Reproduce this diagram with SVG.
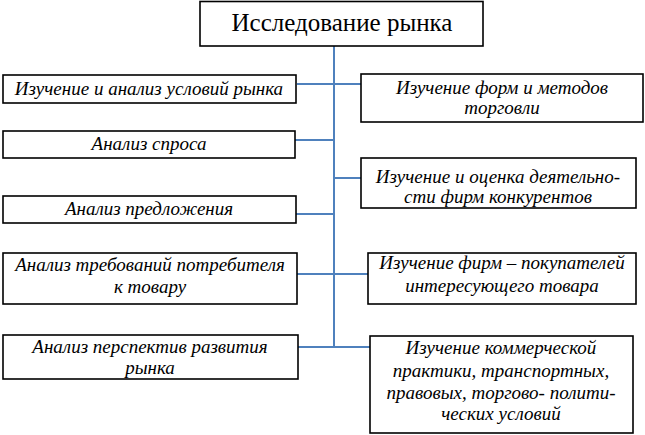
<svg xmlns="http://www.w3.org/2000/svg" width="645" height="435" viewBox="0 0 645 435">
<rect width="645" height="435" fill="#fff"/>
<g id="connectors">
<line stroke="#4f81bd" stroke-width="2" x1="334" y1="46" x2="334" y2="347"/>
<line stroke="#4f81bd" stroke-width="2" x1="297" y1="84" x2="361" y2="84"/>
<line stroke="#4f81bd" stroke-width="2" x1="295" y1="140" x2="334" y2="140"/>
<line stroke="#4f81bd" stroke-width="2" x1="334" y1="178" x2="361" y2="178"/>
<line stroke="#4f81bd" stroke-width="2" x1="296" y1="214" x2="334" y2="214"/>
<line stroke="#4f81bd" stroke-width="2" x1="297" y1="274" x2="368" y2="274"/>
<line stroke="#4f81bd" stroke-width="2" x1="298" y1="347" x2="370" y2="347"/>
</g>
<g id="root">
<rect fill="#fff" stroke="#000" stroke-width="1.6" x="200" y="1.5" width="283" height="44.5"/>
<text font-family="Liberation Serif" font-size="25" text-anchor="middle" x="342" y="31"><tspan font-family="Liberation Serif">Исследование рынка</tspan></text>
</g>
<g id="l1">
<rect fill="#fff" stroke="#000" stroke-width="1.6" x="3" y="75" width="293" height="28"/>
<text font-family="Liberation Serif" font-style="italic" font-size="19" text-anchor="middle" x="149" y="95"><tspan font-family="Liberation Serif" font-style="italic">Изучение и анализ условий рынка</tspan></text>
</g>
<g id="l2">
<rect fill="#fff" stroke="#000" stroke-width="1.6" x="3" y="131" width="292" height="27"/>
<text font-family="Liberation Serif" font-style="italic" font-size="19" text-anchor="middle" x="149" y="150"><tspan font-family="Liberation Serif" font-style="italic">Анализ спроса</tspan></text>
</g>
<g id="l3">
<rect fill="#fff" stroke="#000" stroke-width="1.6" x="3" y="196" width="293" height="27"/>
<text font-family="Liberation Serif" font-style="italic" font-size="19" text-anchor="middle" x="149" y="215"><tspan font-family="Liberation Serif" font-style="italic">Анализ предложения</tspan></text>
</g>
<g id="l4">
<rect fill="#fff" stroke="#000" stroke-width="1.6" x="3" y="253" width="294" height="51"/>
<text font-family="Liberation Serif" font-style="italic" font-size="19" text-anchor="middle" x="150" y="271"><tspan font-family="Liberation Serif" font-style="italic">Анализ требований потребителя</tspan></text>
<text font-family="Liberation Serif" font-style="italic" font-size="19" text-anchor="middle" x="150" y="293"><tspan font-family="Liberation Serif" font-style="italic">к товару</tspan></text>
</g>
<g id="l5">
<rect fill="#fff" stroke="#000" stroke-width="1.6" x="3" y="335" width="295" height="44"/>
<text font-family="Liberation Serif" font-style="italic" font-size="19" text-anchor="middle" x="150" y="353"><tspan font-family="Liberation Serif" font-style="italic">Анализ перспектив развития</tspan></text>
<text font-family="Liberation Serif" font-style="italic" font-size="19" text-anchor="middle" x="150" y="374"><tspan font-family="Liberation Serif" font-style="italic">рынка</tspan></text>
</g>
<g id="r1">
<rect fill="#fff" stroke="#000" stroke-width="1.6" x="361" y="74" width="282" height="48"/>
<text font-family="Liberation Serif" font-style="italic" font-size="19" text-anchor="middle" x="502" y="94"><tspan font-family="Liberation Serif" font-style="italic">Изучение форм и методов</tspan></text>
<text font-family="Liberation Serif" font-style="italic" font-size="19" text-anchor="middle" x="502" y="114"><tspan font-family="Liberation Serif" font-style="italic">торговли</tspan></text>
</g>
<g id="r2">
<rect fill="#fff" stroke="#000" stroke-width="1.6" x="361" y="158" width="275" height="50"/>
<text font-family="Liberation Serif" font-style="italic" font-size="19" text-anchor="middle" x="498" y="183"><tspan font-family="Liberation Serif" font-style="italic">Изучение и оценка деятельно-</tspan></text>
<text font-family="Liberation Serif" font-style="italic" font-size="19" text-anchor="middle" x="498" y="203"><tspan font-family="Liberation Serif" font-style="italic">сти фирм конкурентов</tspan></text>
</g>
<g id="r3">
<rect fill="#fff" stroke="#000" stroke-width="1.6" x="368" y="253" width="268" height="51"/>
<text font-family="Liberation Serif" font-style="italic" font-size="19" text-anchor="middle" x="502" y="269"><tspan font-family="Liberation Serif" font-style="italic">Изучение фирм – покупателей</tspan></text>
<text font-family="Liberation Serif" font-style="italic" font-size="19" text-anchor="middle" x="502" y="292"><tspan font-family="Liberation Serif" font-style="italic">интересующего товара</tspan></text>
</g>
<g id="r4">
<rect fill="#fff" stroke="#000" stroke-width="1.6" x="370" y="336" width="263" height="97"/>
<text font-family="Liberation Serif" font-style="italic" font-size="19" text-anchor="middle" x="501" y="354"><tspan font-family="Liberation Serif" font-style="italic">Изучение коммерческой</tspan></text>
<text font-family="Liberation Serif" font-style="italic" font-size="19" text-anchor="middle" x="501" y="377"><tspan font-family="Liberation Serif" font-style="italic">практики, транспортных,</tspan></text>
<text font-family="Liberation Serif" font-style="italic" font-size="19" text-anchor="middle" x="501" y="399"><tspan font-family="Liberation Serif" font-style="italic">правовых, торгово- полити-</tspan></text>
<text font-family="Liberation Serif" font-style="italic" font-size="19" text-anchor="middle" x="501" y="420"><tspan font-family="Liberation Serif" font-style="italic">ческих условий</tspan></text>
</g>
</svg>
